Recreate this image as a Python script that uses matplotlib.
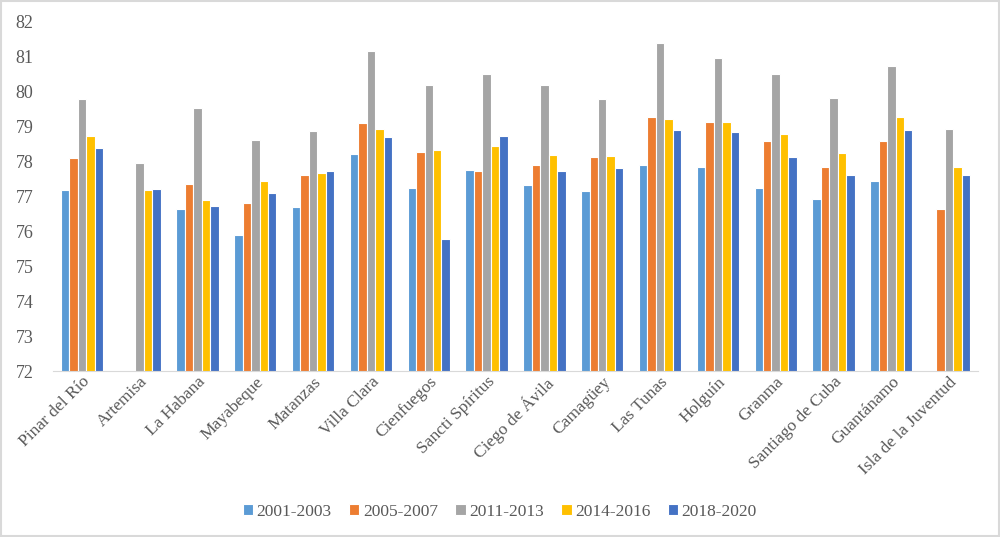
import matplotlib.pyplot as plt
import numpy as np
from matplotlib.patches import Rectangle

plt.rcParams['font.family'] = ['Liberation Serif', 'DejaVu Serif']

provinces = ['Pinar del Río', 'Artemisa', 'La Habana', 'Mayabeque', 'Matanzas',
             'Villa Clara', 'Cienfuegos', 'Sancti Spíritus', 'Ciego de Ávila',
             'Camagüey', 'Las Tunas', 'Holguín', 'Granma', 'Santiago de Cuba',
             'Guantánamo', 'Isla de la Juventud']
periods = ['2001-2003', '2005-2007', '2011-2013', '2014-2016', '2018-2020']

v2001 = [77.17, np.nan, 76.63, 75.89, 76.68, 78.20, 77.25, 77.76, 77.32, 77.14,
         77.89, 77.85, 77.25, 76.93, 77.43, np.nan]
v2005 = [78.10, np.nan, 77.35, 76.82, 77.61, 79.10, 78.27, 77.72, 77.89, 78.11,
         79.28, 79.12, 78.59, 77.85, 78.59, 76.64]
v2011 = [79.77, 77.94, 79.53, 78.60, 78.87, 81.15, 80.17, 80.49, 80.17, 79.78,
         81.38, 80.95, 80.49, 79.81, 80.74, 78.93]
v2014 = [78.73, 77.19, 76.88, 77.43, 77.67, 78.92, 78.33, 78.45, 78.17, 78.15,
         79.20, 79.12, 78.79, 78.23, 79.28, 77.84]
v2018 = [78.38, 77.21, 76.73, 77.08, 77.73, 78.70, 75.77, 78.73, 77.73, 77.82,
         78.90, 78.85, 78.11, 77.60, 78.90, 77.60]

series = [v2001, v2005, v2011, v2014, v2018]
colors = ['#5B9BD5', '#ED7D31', '#A5A5A5', '#FFC000', '#4472C4']

fig = plt.figure(figsize=(10, 5.37), dpi=100)
ax = fig.add_axes([0.053, 0.309, 0.925, 0.651])

x = np.arange(len(provinces))
w = 0.146
for i in range(5):
    ax.bar(x + (i - 2) * w, series[i], w, bottom=0, color=colors[i],
           edgecolor='white', linewidth=0.8, label=periods[i])

ax.set_ylim(72, 82)
ax.set_xlim(-0.5, len(provinces) - 0.5)
ax.set_yticks(range(72, 83))
ax.tick_params(axis='y', length=0, labelsize=13, colors='#595959', pad=14)
ax.tick_params(axis='x', length=0, labelsize=12.5, colors='#595959', pad=2)
ax.set_xticks(x)
ax.set_xticklabels(provinces, rotation=45, ha='right', rotation_mode='anchor')
for s in ['top', 'right', 'left']:
    ax.spines[s].set_visible(False)
ax.spines['bottom'].set_color('#D9D9D9')

ax.legend(loc='lower center', bbox_to_anchor=(0.483, -0.47), ncol=5, frameon=False,
          fontsize=12.5, handlelength=0.6, handleheight=0.6, handletextpad=0.2,
          columnspacing=1.0, labelcolor='#595959')

fig.patches.append(Rectangle((0.001, 0.001), 0.998, 0.997, transform=fig.transFigure,
                             fill=False, edgecolor='#D9D9D9', linewidth=1.5))

fig.savefig('out.png')
